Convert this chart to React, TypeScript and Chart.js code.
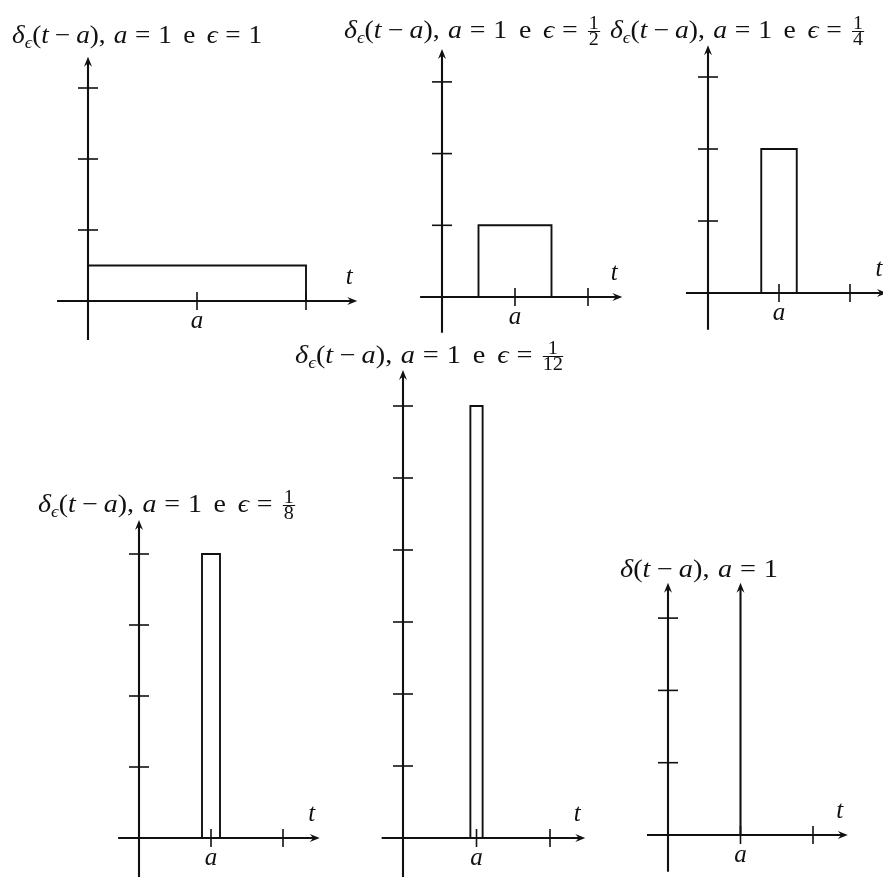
import React, { useEffect, useLayoutEffect, useRef } from 'react';
import { Chart, registerables } from 'chart.js';

Chart.register(...registerables);

// ================= DATA =================
const aValue = 1;
const epsilonNumerator = ['1', '1', '1', '1', '1'];
const epsilonDenominator = ['', '2', '4', '8', '12'];
const pulseStart = [0, 0.5, 0.75, 0.875, 0.9167];
const pulseEnd = [2, 1.5, 1.25, 1.125, 1.0833];
const pulseHeight = [0.5, 1, 2, 4, 6];
const deltaArrowHeight = 3.49;
const yTickValues = [
  [1, 2, 3],
  [1, 2, 3],
  [1, 2, 3],
  [1, 2, 3, 4],
  [1, 2, 3, 4, 5, 6],
  [1, 2, 3],
];
const xTickValues = [1, 2];
const xTickLabels = ['a', ''];
const horizontalAxisLabel = 't';

// ================= LAYOUT (pixel placement of each panel) =================
type Layout = {
  left: number; top: number; width: number; height: number;
  ox: number; oy: number; ux: number; uy: number;
  xFrom: number; xTo: number; yFrom: number; yTo: number;
  titleLeft: number; titleBaseline: number; titleWidth: number;
};

const layouts: Layout[] = [
  { left: 40, top: 48, width: 330, height: 302, ox: 88, oy: 301, ux: 109, uy: 71,
    xFrom: -0.284, xTo: 2.47, yFrom: -0.55, yTo: 3.44, titleLeft: 12, titleBaseline: 43, titleWidth: 250 },
  { left: 405, top: 40, width: 230, height: 300, ox: 442, oy: 297, ux: 73, uy: 71.7,
    xFrom: -0.3, xTo: 2.47, yFrom: -0.5, yTo: 3.46, titleLeft: 344, titleBaseline: 38, titleWidth: 256 },
  { left: 665, top: 35, width: 218, height: 305, ox: 708, oy: 293, ux: 71, uy: 72,
    xFrom: -0.31, xTo: 2.52, yFrom: -0.51, yTo: 3.44, titleLeft: 610, titleBaseline: 38, titleWidth: 254 },
  { left: 100, top: 505, width: 240, height: 372, ox: 139, oy: 838, ux: 72, uy: 71,
    xFrom: -0.29, xTo: 2.51, yFrom: -0.55, yTo: 4.48, titleLeft: 38, titleBaseline: 512, titleWidth: 257 },
  { left: 360, top: 355, width: 240, height: 522, ox: 403, oy: 838, ux: 73.5, uy: 72,
    xFrom: -0.29, xTo: 2.48, yFrom: -0.54, yTo: 6.5, titleLeft: 295, titleBaseline: 363, titleWidth: 268 },
  { left: 625, top: 575, width: 258, height: 302, ox: 668, oy: 835, ux: 72.5, uy: 72.3,
    xFrom: -0.29, xTo: 2.48, yFrom: -0.51, yTo: 3.49, titleLeft: 620, titleBaseline: 577, titleWidth: 158 },
];

const INK = '#111111';
const SERIF = '"Liberation Serif", "DejaVu Serif", "Times New Roman", serif';

// ================= drawing helpers =================
function arrowHead(ctx: CanvasRenderingContext2D, x: number, y: number, angle: number) {
  const L = 10;
  const W = 4;
  const dx = Math.cos(angle), dy = Math.sin(angle);
  const px = -dy, py = dx;
  const bx = x - L * dx, by = y - L * dy;
  const nx = x - 0.65 * L * dx, ny = y - 0.65 * L * dy;
  ctx.beginPath();
  ctx.moveTo(x, y);
  ctx.lineTo(bx + W * px, by + W * py);
  ctx.lineTo(nx, ny);
  ctx.lineTo(bx - W * px, by - W * py);
  ctx.closePath();
  ctx.fill();
}

function seg(ctx: CanvasRenderingContext2D, x1: number, y1: number, x2: number, y2: number) {
  ctx.beginPath();
  ctx.moveTo(x1, y1);
  ctx.lineTo(x2, y2);
  ctx.stroke();
}

const diagramPlugin: any = {
  id: 'diagram',
  beforeDatasetsDraw(chart: any, _args: any, opts: any) {
    const ctx: CanvasRenderingContext2D = chart.ctx;
    const X = (v: number) => chart.scales.x.getPixelForValue(v);
    const Y = (v: number) => chart.scales.y.getPixelForValue(v);
    ctx.save();
    ctx.strokeStyle = INK;
    ctx.fillStyle = INK;
    ctx.lineCap = 'butt';
    // horizontal axis
    ctx.lineWidth = 2.1;
    seg(ctx, X(opts.xFrom), Y(0), X(opts.xTo) - 5, Y(0));
    arrowHead(ctx, X(opts.xTo), Y(0), 0);
    // vertical axis
    seg(ctx, X(0), Y(opts.yFrom), X(0), Y(opts.yTo) + 5);
    arrowHead(ctx, X(0), Y(opts.yTo), -Math.PI / 2);
    // ticks on vertical axis
    ctx.lineWidth = 1.6;
    (opts.yTicks as number[]).forEach((v) => seg(ctx, X(0) - 10, Y(v), X(0) + 10, Y(v)));
    // ticks on horizontal axis
    (opts.xTicks as number[]).forEach((v) => seg(ctx, X(v), Y(0) - 9, X(v), Y(0) + 9));
    // labels
    ctx.font = `italic 25px ${SERIF}`;
    ctx.textAlign = 'center';
    ctx.textBaseline = 'middle';
    ctx.fillText(opts.axisLabel, X(opts.xTo) - 8, Y(0) - 24);
    (opts.xTicks as number[]).forEach((v, i) => {
      const lab = opts.xTickLabels[i];
      if (lab) ctx.fillText(lab, X(v), Y(0) + 20);
    });
    ctx.restore();
  },
  afterDatasetsDraw(chart: any, _args: any, opts: any) {
    if (!opts.arrowOnData) return;
    const meta = chart.getDatasetMeta(0);
    const pts = meta.data;
    const last = pts[pts.length - 1];
    const ctx: CanvasRenderingContext2D = chart.ctx;
    ctx.save();
    ctx.fillStyle = INK;
    arrowHead(ctx, last.x, last.y - 5, -Math.PI / 2);
    ctx.restore();
  },
};

// ================= chart panel =================
function Panel({ index }: { index: number }) {
  const L = layouts[index];
  const ref = useRef<HTMLCanvasElement>(null);
  useEffect(() => {
    const canvas = ref.current;
    if (!canvas) return;
    const xMin = (L.left - L.ox) / L.ux;
    const xMax = (L.left + L.width - L.ox) / L.ux;
    const yMax = (L.oy - L.top) / L.uy;
    const yMin = (L.oy - (L.top + L.height)) / L.uy;
    const isDelta = index === 5;
    const points = isDelta
      ? [
          { x: aValue, y: 0 },
          { x: aValue, y: deltaArrowHeight - 0.07 },
        ]
      : [
          { x: pulseStart[index], y: 0 },
          { x: pulseStart[index], y: pulseHeight[index] },
          { x: pulseEnd[index], y: pulseHeight[index] },
          { x: pulseEnd[index], y: 0 },
        ];
    const chart = new Chart(canvas, {
      type: 'line',
      data: {
        datasets: [
          {
            data: points,
            borderColor: INK,
            borderWidth: isDelta ? 2.1 : 1.9,
            pointRadius: 0,
            fill: false,
            tension: 0,
            clip: false as any,
            borderJoinStyle: 'miter',
          } as any,
        ],
      },
      options: {
        responsive: false,
        maintainAspectRatio: false,
        animation: false,
        events: [],
        layout: { padding: 0 },
        scales: {
          x: { type: 'linear', display: false, min: xMin, max: xMax },
          y: { type: 'linear', display: false, min: yMin, max: yMax },
        },
        plugins: {
          legend: { display: false },
          tooltip: { enabled: false },
          title: { display: false },
          diagram: {
            xFrom: L.xFrom,
            xTo: L.xTo,
            yFrom: L.yFrom,
            yTo: L.yTo,
            yTicks: yTickValues[index],
            xTicks: xTickValues,
            xTickLabels: xTickLabels,
            axisLabel: horizontalAxisLabel,
            arrowOnData: isDelta,
          },
        } as any,
      },
      plugins: [diagramPlugin],
    });
    return () => chart.destroy();
  }, [index]);
  return (
    <canvas
      ref={ref}
      width={L.width}
      height={L.height}
      style={{ position: 'absolute', left: L.left, top: L.top, width: L.width, height: L.height }}
    />
  );
}

// ================= math titles (HTML text) =================
const I = ({ children }: { children: any }) => <span style={{ fontStyle: 'italic' }}>{children}</span>;
const Gap = ({ em }: { em: number }) => <span style={{ display: 'inline-block', width: `${em}em` }} />;
const Op = ({ c, em }: { c: string; em: number }) => (
  <span style={{ margin: `0 ${em}em` }}>{c}</span>
);
const SubEps = () => (
  <span style={{ fontSize: '0.68em', fontStyle: 'italic', position: 'relative', top: '0.28em' }}>ϵ</span>
);

function Frac({ num, den }: { num: string; den: string }) {
  return (
    <span
      style={{
        display: 'inline-block',
        fontSize: 18,
        lineHeight: '15px',
        textAlign: 'center',
        verticalAlign: '-7px',
        fontStyle: 'normal',
        marginLeft: 2,
      }}
    >
      <span style={{ display: 'block', borderBottom: `1.3px solid ${INK}`, padding: '0 1px' }}>{num}</span>
      <span style={{ display: 'block' }}>{den}</span>
    </span>
  );
}

function Title({ index }: { index: number }) {
  const L = layouts[index];
  const divRef = useRef<HTMLDivElement>(null);
  const markRef = useRef<HTMLSpanElement>(null);
  useLayoutEffect(() => {
    const fit = () => {
      const el = divRef.current;
      const mk = markRef.current;
      if (!el || !mk) return;
      el.style.transform = 'none';
      el.style.top = '0px';
      const r = el.getBoundingClientRect();
      const m = mk.getBoundingClientRect();
      const base = m.bottom - r.top;
      const k = L.titleWidth / r.width;
      el.style.top = `${L.titleBaseline - base}px`;
      el.style.transformOrigin = `0px ${base}px`;
      el.style.transform = `scaleX(${k})`;
    };
    fit();
    if ((document as any).fonts && (document as any).fonts.ready) {
      (document as any).fonts.ready.then(fit);
    }
  }, [index]);
  const isDelta = index === 5;
  const eps =
    !isDelta && epsilonDenominator[index] ? (
      <Frac num={epsilonNumerator[index]} den={epsilonDenominator[index]} />
    ) : (
      <span>{epsilonNumerator[index]}</span>
    );
  return (
    <div
      ref={divRef}
      style={{
        position: 'absolute',
        left: L.titleLeft,
        top: 0,
        fontFamily: SERIF,
        fontSize: 25,
        lineHeight: '50px',
        whiteSpace: 'nowrap',
        color: INK,
        width: 'max-content',
      }}
    >
      <span ref={markRef} style={{ display: 'inline-block', width: 0, height: 0 }} />
      <I>δ</I>
      {!isDelta && <SubEps />}(<I>t</I>
      <Op c="−" em={0.22} />
      <I>a</I>),
      <Gap em={0.3} />
      <I>a</I>
      <Op c="=" em={0.28} />1
      {!isDelta && (
        <>
          <Gap em={0.42} />e<Gap em={0.42} />
          <I>ϵ</I>
          <Op c="=" em={0.28} />
          {eps}
        </>
      )}
    </div>
  );
}

export default function App() {
  const idx = [0, 1, 2, 3, 4, 5];
  return (
    <div
      style={{
        position: 'absolute',
        left: 0,
        top: 0,
        width: 883,
        height: 877,
        background: '#ffffff',
        overflow: 'hidden',
      }}
    >
      {idx.map((i) => (
        <Panel key={`p${i}`} index={i} />
      ))}
      {idx.map((i) => (
        <Title key={`t${i}`} index={i} />
      ))}
    </div>
  );
}
